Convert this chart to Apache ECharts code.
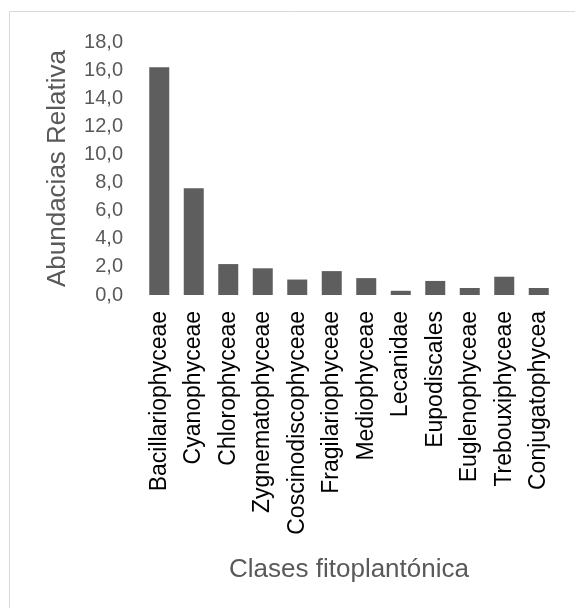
<!DOCTYPE html>
<html>
<head>
<meta charset="utf-8">
<script src="https://cdn.jsdelivr.net/npm/echarts@6/dist/echarts.min.js"></script>
<style>
  html, body { margin: 0; padding: 0; background: #fff; }
  #chart { width: 575px; height: 608px; }
</style>
</head>
<body>
<div id="chart"></div>
<script>
// clases y valores
const clases = ['Bacillariophyceae', 'Cyanophyceae', 'Chlorophyceae', 'Zygnematophyceae',
    'Coscinodiscophyceae', 'Fragilariophyceae', 'Mediophyceae', 'Lecanidae',
    'Eupodiscales', 'Euglenophyceae', 'Trebouxiphyceae', 'Conjugatophycea'];
const abundancia = [16.2, 7.6, 2.2, 1.9, 1.1, 1.7, 1.2, 0.3, 1.0, 0.5, 1.3, 0.5];

const myChart = echarts.init(document.getElementById('chart'));

const font = 'Liberation Sans, Arial, sans-serif';

const option = {
    animation: false,
    graphic: [{
        type: 'rect',
        shape: { x: 9.5, y: 11.5, width: 620, height: 640 },
        style: { fill: 'none', stroke: '#d9d9d9', lineWidth: 1 }
    }],
    grid: {
        left: 142,
        right: 19,
        top: 42,
        bottom: 313
    },
    xAxis: {
        type: 'category',
        data: clases,
        name: 'Clases fitoplantónica',
        nameLocation: 'middle',
        nameGap: 262,
        nameTextStyle: { fontFamily: font, fontSize: 26, color: '#595959' },
        axisLine: { show: false },
        axisTick: { show: false },
        axisLabel: {
            rotate: 90,
            interval: 0,
            margin: 16,
            fontFamily: font,
            fontSize: 23,
            color: '#000'
        }
    },
    yAxis: {
        type: 'value',
        min: 0,
        max: 18,
        interval: 2,
        name: 'Abundacias Relativa',
        nameLocation: 'middle',
        nameGap: 71,
        nameTextStyle: { fontFamily: font, fontSize: 26, color: '#595959' },
        axisLine: { show: false },
        axisTick: { show: false },
        splitLine: { show: false },
        axisLabel: {
            margin: 19,
            fontFamily: font,
            fontSize: 20,
            color: '#595959',
            formatter: function (v) {
                return v.toFixed(1).replace('.', ',');
            }
        }
    },
    series: [{
        type: 'bar',
        data: abundancia,
        barWidth: 20,
        itemStyle: { color: '#5e5e5e' }
    }]
};

myChart.setOption(option);
</script>
</body>
</html>
